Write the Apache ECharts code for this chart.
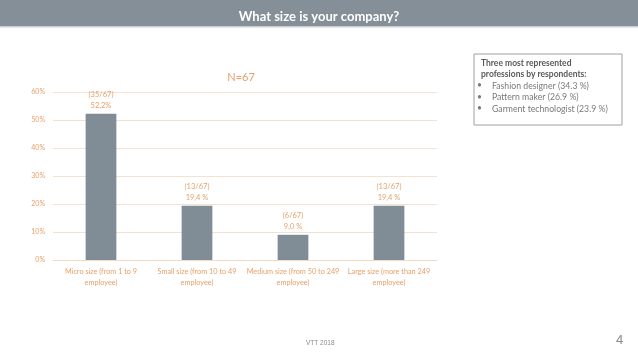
<!DOCTYPE html>
<html><head><meta charset="utf-8">
<script src="https://cdn.jsdelivr.net/npm/echarts@6/dist/echarts.min.js"></script>
<style>html,body{margin:0;padding:0;background:#fff}#c{width:638px;height:359px}</style>
</head><body><div id="c"></div>
<script>
const categories = ["Micro size (from 1 to 9\nemployee)", "Small size (from 10 to 49\nemployee)", "Medium size (from 50 to 249\nemployee)", "Large size (more than 249\nemployee)"];
const percentValues = [52.2, 19.4, 9.0, 19.4];
const countLabels = ["(35/67)", "(13/67)", "(6/67)", "(13/67)"];
const percentLabels = ["52,2%", "19,4 %", "9,0 %", "19,4 %"];
const yTicks = [0, 10, 20, 30, 40, 50, 60];
const chartTitle = "What size is your company?";
const subTitle = "N=67";
const boxTitle = "Three most represented\nprofessions by respondents:";
const boxItems = ["Fashion designer (34.3 %)", "Pattern maker (26.9 %)", "Garment technologist (23.9 %)"];
const footer = "VTT 2018";
const pageNo = "4";

const orange = "#e8a06a";
const font = "Lato, 'Open Sans', sans-serif";
const chart = echarts.init(document.getElementById('c'), null, {renderer: 'canvas'});
chart.setOption({
  animation: false,
  backgroundColor: '#fff',
  title: [
    {text: chartTitle, left: 'center', top: 5, textStyle: {color: '#fff', fontSize: 13, fontWeight: 'bold', fontFamily: font}},
    {text: subTitle, left: 236, top: 67, textAlign: 'center', textStyle: {color: orange, fontSize: 11, fontWeight: 'normal', fontFamily: font}}
  ],
  graphic: [
    {type: 'rect', z: -1, shape: {x: 0, y: 0, width: 638, height: 26}, style: {fill: '#848f97'}},
    {type: 'rect', z: -1, shape: {x: 0, y: 26, width: 638, height: 1.5}, style: {fill: '#c8cfd4'}},
    {type: 'rect', shape: {x: 474, y: 54, width: 148, height: 71}, style: {fill: '#fff', stroke: '#a0a0a0', lineWidth: 1}},
    {type: 'text', left: 481, top: 58, style: {text: boxTitle, fill: '#595959', font: 'bold 8.5px ' + font, lineHeight: 11}},
    {type: 'text', left: 477, top: 80, style: {text: boxItems.map(() => '•').join('\n'), fill: '#7a7a7a', font: '8.5px ' + font, lineHeight: 11.5}},
    {type: 'text', left: 492, top: 80, style: {text: boxItems.join('\n'), fill: '#7a7a7a', font: '8.7px ' + font, lineHeight: 11.5}},
    {type: 'text', left: 306, top: 340, style: {text: footer, fill: '#8a8a8a', font: '6.5px Liberation Sans, sans-serif'}},
    {type: 'text', left: 616, top: 334, style: {text: pageNo, fill: '#8a8a8a', font: '13px Liberation Sans, sans-serif'}}
  ],
  grid: {left: 53, right: 201, top: 92, bottom: 99, containLabel: false},
  xAxis: {
    type: 'category', data: categories,
    axisLine: {show: true, lineStyle: {color: '#f3dac4'}},
    axisTick: {show: false},
    axisLabel: {color: orange, fontSize: 7.3, fontFamily: font, lineHeight: 11, margin: 6, interval: 0}
  },
  yAxis: {
    type: 'value', min: 0, max: 60, interval: 10,
    axisLine: {show: false}, axisTick: {show: false},
    splitLine: {lineStyle: {color: '#f5e1cf'}},
    axisLabel: {color: orange, fontSize: 7, fontFamily: font, margin: 8, formatter: v => v + '%'}
  },
  series: [{
    type: 'bar', data: percentValues, barWidth: '32%',
    itemStyle: {color: '#808d96'},
    label: {show: true, position: 'top', distance: 3, color: orange, fontSize: 7.5, fontFamily: font, lineHeight: 11,
      formatter: p => countLabels[p.dataIndex] + '\n' + percentLabels[p.dataIndex]}
  }]
});
</script></body></html>
